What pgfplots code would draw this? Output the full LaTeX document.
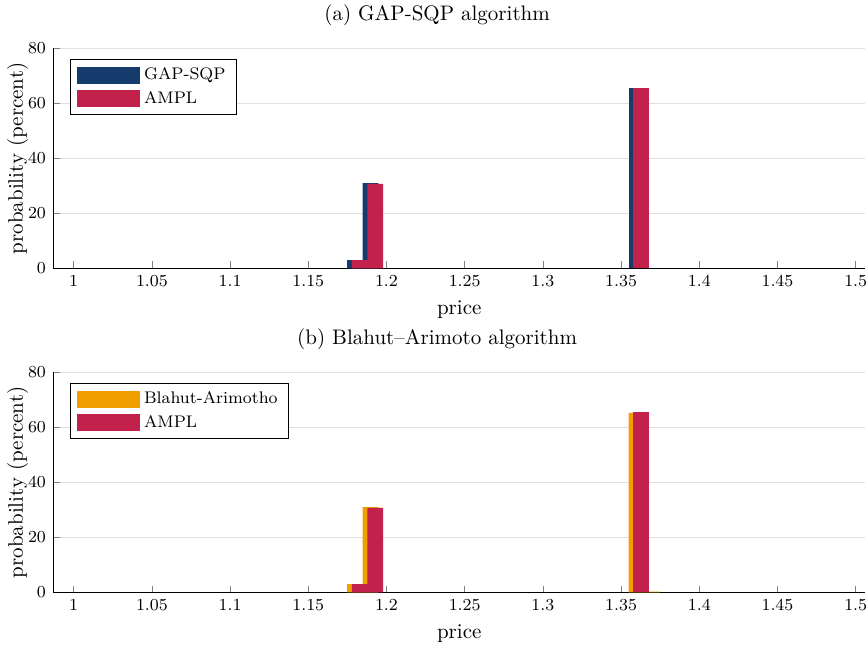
\documentclass[border=0pt]{standalone}
\usepackage{pgfplots}
\pgfplotsset{compat=1.18}

\definecolor{gapblue}{RGB}{22,60,110}
\definecolor{amplred}{RGB}{193,33,74}
\definecolor{baorange}{RGB}{241,159,0}

\pgfplotsset{
  histax/.style={
    scale only axis, width=386.5pt, height=104.8pt,
    xmin=0.987, xmax=1.506, ymin=0, ymax=80,
    xtick={1,1.05,1.1,1.15,1.2,1.25,1.3,1.35,1.4,1.45,1.5},
    ytick={0,20,40,60,80},
    axis x line*=bottom, axis y line*=left,
    tick align=inside, major tick length=3.3pt,
    ymajorgrids, grid style={gray!25, line width=0.6pt},
    tick label style={font=\fontsize{8.5}{10}\selectfont},
    xlabel={price}, ylabel={probability (percent)},
    ylabel style={at={(axis description cs:-0.044,0.5)}, anchor=center},
    title style={at={(axis description cs:0.5,1)}, anchor=center, xshift=-10.5pt, yshift=9.7pt},
    legend style={at={(0,1)}, anchor=north west, xshift=8pt, yshift=-5pt,
      draw=black, font=\footnotesize, cells={anchor=west}, row sep=0pt},
  },
  histbar/.style={ybar interval, fill=#1, draw=none,
    legend image code/.code={\fill[#1] (0pt,-4pt) rectangle (30pt,4pt);}},
}

\begin{document}
\begin{tikzpicture}
\begin{axis}[histax, name=top, title={(a) GAP-SQP algorithm}]
\addplot[histbar=gapblue] coordinates {(1.1748,3.0)(1.1848,31.0)(1.1948,0)};
\addplot[histbar=amplred] coordinates {(1.1778,3.0)(1.1878,30.7)(1.1978,0)};
\addplot[histbar=gapblue, forget plot] coordinates {(1.3548,65.6)(1.3648,0)};
\addplot[histbar=amplred, forget plot] coordinates {(1.3578,65.6)(1.3678,0)};
\legend{GAP-SQP, AMPL}
\end{axis}

\begin{axis}[histax, name=bot, at={(0,-154.3pt)}, title={(b) Blahut--Arimoto algorithm}]
\addplot[histbar=baorange] coordinates {(1.1748,3.0)(1.1848,31.0)(1.1948,0)};
\addplot[histbar=amplred] coordinates {(1.1778,3.0)(1.1878,30.7)(1.1978,0)};
\addplot[histbar=baorange, forget plot] coordinates {(1.3548,65.3)(1.3648,0.3)(1.3748,0)};
\addplot[histbar=amplred, forget plot] coordinates {(1.3578,65.5)(1.3678,0)};
\legend{Blahut-Arimotho, AMPL}
\end{axis}
\pgfresetboundingbox
\useasboundingbox ([xshift=-25.4pt,yshift=23pt]top.north west) rectangle ([xshift=1.4pt,yshift=-28.1pt]bot.south east);
\end{tikzpicture}
\end{document}
